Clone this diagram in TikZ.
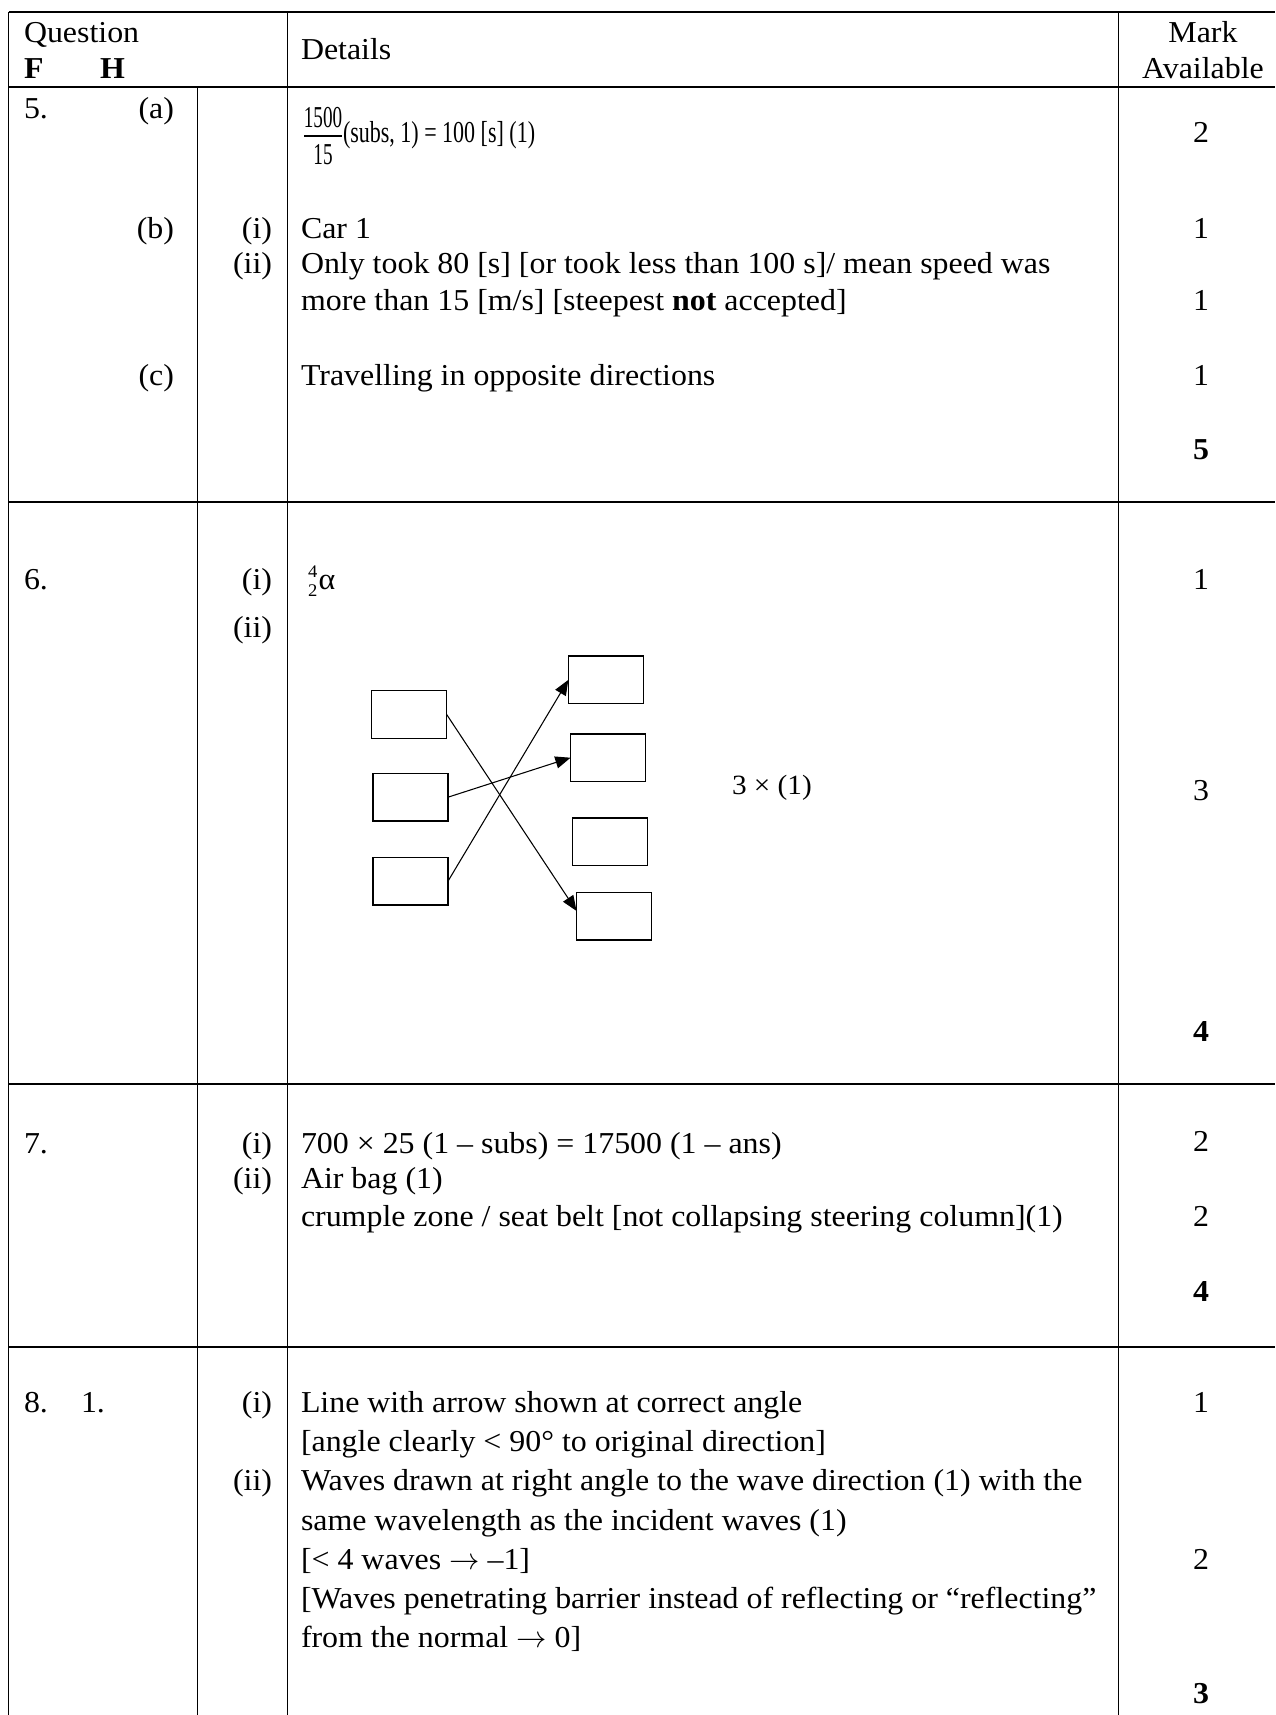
\documentclass[tikz,border=0pt]{standalone}
\usepackage{fontspec}
\usepackage{graphicx}
\setmainfont{Liberation Serif}[FakeStretch=1.05]
\usetikzlibrary{arrows.meta}
\newcommand{\rarr}{\ensuremath{\rightarrow}}
\begin{document}
\begin{tikzpicture}[x=0.395pt,y=-0.395pt,
  every node/.style={inner sep=0pt,outer sep=0pt,font=\fontsize{12}{14}\selectfont},
  txt/.style={anchor=base west},
  rtxt/.style={anchor=base east},
  mk/.style={anchor=base},
  hline/.style={line width=0.65pt},
  vline/.style={line width=0.52pt},
  ansbox/.style={draw,line width=0.55pt,minimum width=29.6pt,minimum height=18.8pt},
  arr/.style={line width=0.42pt,-{Triangle[length=6pt,width=4.8pt]}}]
\useasboundingbox (0,0) rectangle (1275,1715);
% table rules
\draw[hline] (8.5,12.3) -- (1275,12.3);
\draw[hline] (8.5,86.7) -- (1275,86.7);
\draw[hline] (8.5,501.7) -- (1275,501.7);
\draw[hline] (8.5,1084.3) -- (1275,1084.3);
\draw[hline] (8.5,1346.7) -- (1275,1346.7);
\draw[vline] (8.5,12.3) -- (8.5,1715);
\draw[vline] (197.7,86.7) -- (197.7,1715);
\draw[vline] (287.3,12.3) -- (287.3,1715);
\draw[vline] (1118.3,12.3) -- (1118.3,1715);
% header
\node[txt] (hq) at (24,42.7) {Question};
\node[txt] (hf) at (24,78.3) {\textbf{F}};
\node[txt] (hh) at (100,78.3) {\textbf{H}};
\node[txt] (hd) at (301,60) {Details};
\node[mk] (hm1) at (1203,42.7) {Mark};
\node[mk] (hm2) at (1203,78.3) {Available};
% row 5
\node[txt] (q5) at (24,119) {5.};
\node[rtxt] (q5a) at (174,119) {(a)};
\node[mk] (num) at (323,128) {\scalebox{0.6}[1]{1500}};
\draw[line width=0.5pt] (304,136) -- (342,136);
\node[mk] (den) at (323,165) {\scalebox{0.6}[1]{15}};
\node[txt] (eq5) at (343,142) {\scalebox{0.69}[1]{(subs, 1) = 100 [s] (1)}};
\node[mk] (m5a) at (1201,142) {2};
\node[rtxt] (q5b) at (174,238) {(b)};
\node[rtxt] (q5bi) at (272,238) {(i)};
\node[txt] (t5b1) at (301,238) {Car 1};
\node[mk] (m5b1) at (1201,238) {1};
\node[rtxt] (q5bii) at (272,273) {(ii)};
\node[txt] (t5b2) at (301,273) {Only took 80 [s] [or took less than 100 s]/ mean speed was};
\node[txt] (t5b3) at (301,310) {more than 15 [m/s] [steepest \textbf{not} accepted]};
\node[mk] (m5b2) at (1201,310) {1};
\node[rtxt] (q5c) at (174,385) {(c)};
\node[txt] (t5c) at (301,385) {Travelling in opposite directions};
\node[mk] (m5c) at (1201,385) {1};
\node[mk] (m5t) at (1201,459) {\textbf{5}};
% row 6
\node[txt] (q6) at (24,589) {6.};
\node[rtxt] (q6i) at (272,589) {(i)};
\node[txt] (t6i) at (308,589) {${}^{\mbox{\fontsize{7}{7}\selectfont 4}}_{\mbox{\fontsize{7}{7}\selectfont 2}}$α};
\node[mk] (m6i) at (1201,589) {1};
\node[rtxt] (q6ii) at (272,637) {(ii)};
\node[ansbox] (L1) at (409.2,714.5) {};
\node[ansbox] (L2) at (410.5,797.2) {};
\node[ansbox] (L3) at (410.5,881.2) {};
\node[ansbox] (R1) at (605.8,679.9) {};
\node[ansbox] (R2) at (608,757.7) {};
\node[ansbox] (R3) at (610,841.7) {};
\node[ansbox] (R4) at (614,916) {};
\draw[arr] (L1.east) -- ([yshift=2pt]R4.west);
\draw[arr] (L2.east) -- (R2.west);
\draw[arr] (L3.east) -- (R1.west);
\node[txt,font=\fontsize{11}{13}\selectfont] (t6m) at (732,794) {3 × (1)};
\node[mk] (m6ii) at (1201,800) {3};
\node[mk] (m6t) at (1201,1041) {\textbf{4}};
% row 7
\node[txt] (q7) at (24,1153) {7.};
\node[rtxt] (q7i) at (272,1153) {(i)};
\node[txt] (t7i) at (301,1153) {700 × 25 (1 – subs) = 17500 (1 – ans)};
\node[mk] (m7i) at (1201,1151) {2};
\node[rtxt] (q7ii) at (272,1188) {(ii)};
\node[txt] (t7ii) at (301,1188) {Air bag (1)};
\node[txt] (t7ii2) at (301,1226) {crumple zone / seat belt [not collapsing steering column](1)};
\node[mk] (m7ii) at (1201,1226) {2};
\node[mk] (m7t) at (1201,1301) {\textbf{4}};
% row 8
\node[txt] (q8) at (24,1412) {8.};
\node[txt] (q8n) at (81,1412) {1.};
\node[rtxt] (q8i) at (272,1412) {(i)};
\node[txt] (t8a) at (301,1412) {Line with arrow shown at correct angle};
\node[mk] (m8i) at (1201,1412) {1};
\node[txt] (t8b) at (301,1451) {[angle clearly < 90° to original direction]};
\node[rtxt] (q8ii) at (272,1490) {(ii)};
\node[txt] (t8c) at (301,1490) {Waves drawn at right angle to the wave direction (1) with the};
\node[txt] (t8d) at (301,1530) {same wavelength as the incident waves (1)};
\node[txt] (t8e) at (301,1569) {[< 4 waves \rarr{} –1]};
\node[mk] (m8ii) at (1201,1569) {2};
\node[txt] (t8f) at (301,1608) {[Waves penetrating barrier instead of reflecting or “reflecting”};
\node[txt] (t8g) at (301,1647) {from the normal \rarr{} 0]};
\node[mk] (m8t) at (1201,1703) {\textbf{3}};
\end{tikzpicture}
\end{document}
